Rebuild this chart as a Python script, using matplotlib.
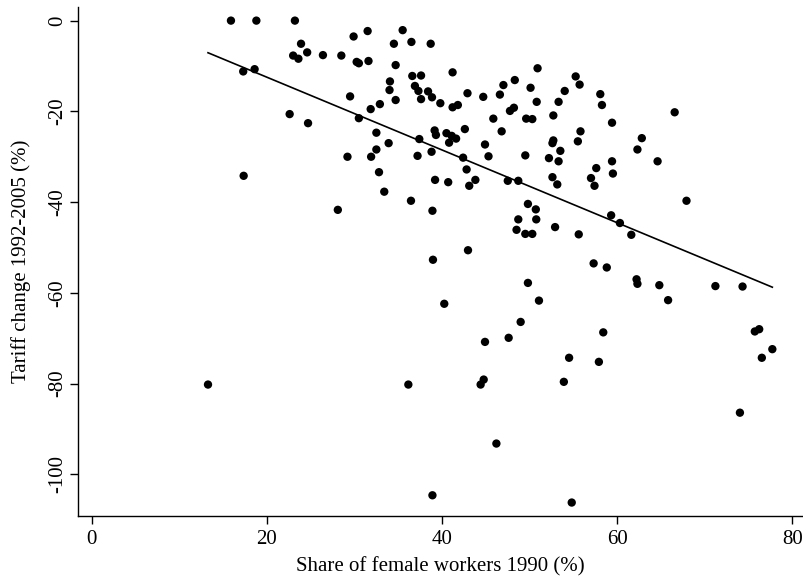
import matplotlib
matplotlib.use("Agg")
import matplotlib.pyplot as plt
import numpy as np

# Share of female workers 1990 (%)
female_share = [
    15.9, 18.8, 23.2, 23.9, 23.0, 23.6, 24.6, 26.4, 17.3, 18.6, 22.6, 24.7, 17.35,
    28.5, 29.9, 31.5, 30.25, 30.5, 31.6, 35.5, 34.5, 36.5, 38.7, 34.7, 41.2, 50.9,
    36.6, 37.6, 34.05, 36.9, 37.3, 37.6, 38.4, 38.85, 34.0, 34.7, 29.5, 32.9, 31.85,
    30.5, 39.8, 42.9, 41.2, 41.8, 44.7, 47.0, 46.6, 48.3, 50.1, 50.8, 54.0, 53.3,
    47.75, 48.2, 45.85, 49.6, 50.3, 52.7, 46.8, 42.6, 39.15, 39.3, 40.5, 41.1, 41.6,
    40.8, 37.4, 32.5, 33.9, 32.5, 29.2, 31.9, 37.2, 38.8, 32.8, 42.4, 42.8, 44.9,
    45.3, 49.5, 52.7, 52.6, 53.5, 52.2, 53.3, 52.6, 39.2, 40.7, 43.1, 43.8, 47.5,
    48.7, 53.15, 33.4, 36.45, 28.1, 38.9, 49.8, 50.7, 48.7, 50.75, 52.9, 48.5, 49.5,
    50.3, 42.96, 38.96, 49.8, 51.06, 40.25, 48.97, 44.9, 47.6, 55.25, 55.7, 58.06,
    58.25, 66.55, 59.4, 55.8, 55.5, 62.8, 62.3, 59.4, 64.6, 57.6, 59.5, 57.0, 57.4,
    67.9, 59.3, 60.3, 55.6, 61.6, 57.3, 58.8, 62.2, 62.3, 64.8, 71.2, 74.3, 65.8,
    58.4, 75.7, 76.2, 77.7, 53.9, 54.5, 57.9, 76.5, 74.0, 54.8, 36.15, 44.4, 44.75,
    46.2, 38.9, 13.28,
]

# Tariff change 1992-2005 (%)
tariff_change = [
    0.0, 0.0, 0.0, -5.1, -7.7, -8.4, -7.0, -7.6, -11.2, -10.7, -20.6, -22.6, -34.2,
    -7.7, -3.5, -2.3, -9.1, -9.4, -8.9, -2.1, -5.1, -4.7, -5.1, -9.8, -11.4, -10.5,
    -12.2, -12.1, -13.4, -14.4, -15.5, -17.3, -15.6, -16.9, -15.3, -17.5, -16.7, -18.4, -19.5,
    -21.5, -18.2, -16.0, -19.1, -18.6, -16.8, -14.2, -16.3, -13.1, -14.8, -17.9, -15.5, -17.9,
    -19.9, -19.2, -21.6, -21.6, -21.7, -20.9, -24.4, -23.9, -24.2, -25.2, -24.8, -25.4, -26.0,
    -26.9, -26.1, -24.7, -27.0, -28.4, -30.0, -30.0, -29.8, -28.9, -33.4, -30.2, -32.8, -27.3,
    -29.9, -29.7, -26.4, -27.0, -28.7, -30.3, -31.0, -34.5, -35.1, -35.6, -36.4, -35.1, -35.3,
    -35.3, -36.1, -37.7, -39.7, -41.7, -41.9, -40.4, -41.6, -43.8, -43.8, -45.5, -46.1, -47.0,
    -47.0, -50.6, -52.7, -57.8, -61.7, -62.4, -66.4, -70.8, -69.9, -12.3, -14.1, -16.2,
    -18.6, -20.2, -22.5, -24.4, -26.6, -25.9, -28.4, -31.0, -31.0, -32.5, -33.7, -34.7, -36.4,
    -39.7, -42.9, -44.6, -47.1, -47.2, -53.5, -54.4, -57.0, -58.0, -58.3, -58.5, -58.6, -61.6,
    -68.7, -68.5, -68.0, -72.4, -79.6, -74.3, -75.2, -74.3, -86.4, -106.2, -80.2, -80.2, -79.1,
    -93.2, -104.6, -80.2,
]

# Fitted line (linear fit)
fit_intercept = 3.57
fit_slope = -0.802

x_ticks = [0, 20, 40, 60, 80]
y_ticks = [0, -20, -40, -60, -80, -100]

plt.rcParams['font.family'] = ['Liberation Serif', 'DejaVu Serif']

fig = plt.figure(figsize=(8.04, 5.77), dpi=100)
ax = fig.add_axes([78 / 804, 61.3 / 577, (803 - 78) / 804, (570 - 61.3) / 577])

xs = np.array(female_share)
ys = np.array(tariff_change)
ax.scatter(xs, ys, s=36, color='black', edgecolors='none', zorder=3)

xline = np.array([xs.min(), xs.max()])
ax.plot(xline, fit_intercept + fit_slope * xline, color='black', lw=1.2, zorder=2)

ax.set_xlim(-1.56, 81.2)
ax.set_ylim(-109.1, 3.0)
ax.set_xticks(x_ticks)
ax.set_yticks(y_ticks)
ax.set_yticklabels([str(v) for v in y_ticks], rotation=90, va='center')

for s in ['top', 'right']:
    ax.spines[s].set_visible(False)
for s in ['left', 'bottom']:
    ax.spines[s].set_linewidth(1.0)
    ax.spines[s].set_color('black')

ax.tick_params(axis='both', direction='out', length=6, width=1.0, labelsize=15, colors='black')
ax.tick_params(axis='x', pad=4)
ax.tick_params(axis='y', pad=2)

ax.set_xlabel('Share of female workers 1990 (%)', fontsize=15, labelpad=6)
ax.set_ylabel('Tariff change 1992-2005 (%)', fontsize=15, labelpad=12)

fig.savefig('out.png', dpi=100, facecolor='white')
